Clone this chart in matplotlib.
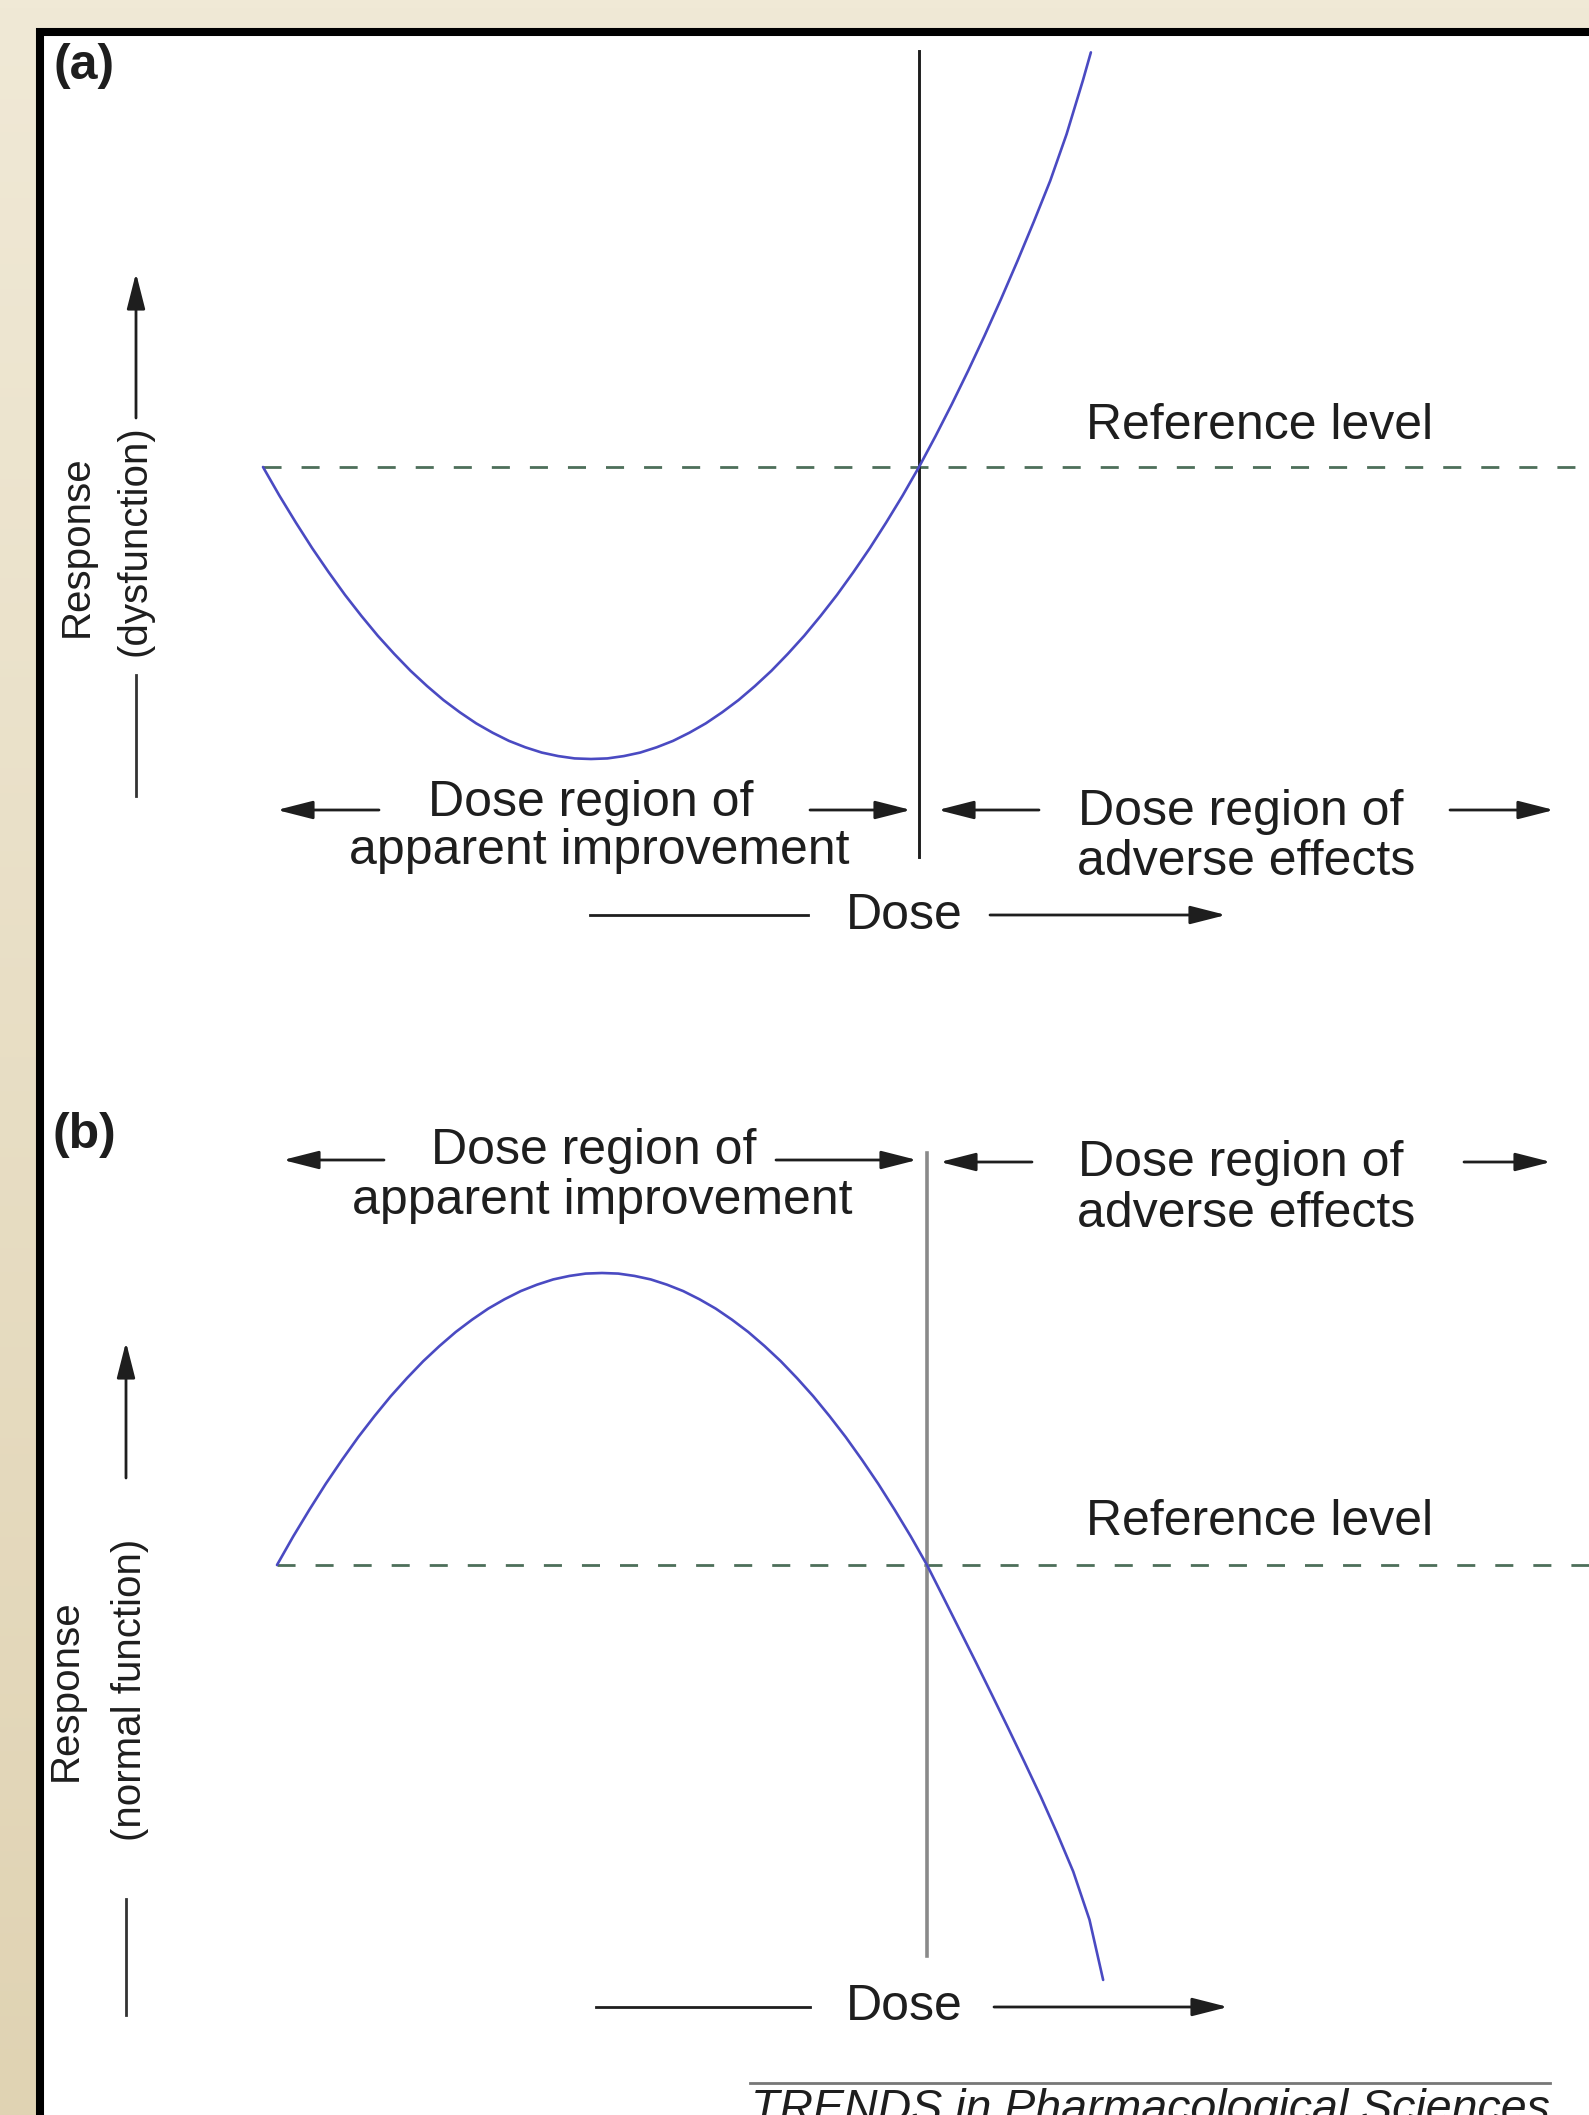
import numpy as np
import matplotlib
matplotlib.use('Agg')
import matplotlib.pyplot as plt
from matplotlib.patches import Rectangle

plt.rcParams['font.family'] = ['Liberation Sans', 'DejaVu Sans']

# (a) response (dysfunction) vs dose, dose normalised so threshold = 1
dose_a = [0.000, 0.025, 0.050, 0.075, 0.100, 0.125, 0.150, 0.175, 0.200, 0.225, 0.250,
          0.275, 0.300, 0.325, 0.350, 0.375, 0.400, 0.425, 0.450, 0.475, 0.500,
          0.525, 0.550, 0.575, 0.600, 0.625, 0.650, 0.675, 0.700, 0.725, 0.750,
          0.775, 0.800, 0.825, 0.850, 0.875, 0.900, 0.925, 0.950, 0.975, 1.000,
          1.025, 1.050, 1.075, 1.100, 1.125, 1.150, 1.175, 1.200, 1.225, 1.250, 1.262]
resp_a = [0.000, -0.098, -0.190, -0.278, -0.360, -0.438, -0.510, -0.578, -0.640, -0.698, -0.750,
          -0.798, -0.840, -0.878, -0.910, -0.938, -0.960, -0.978, -0.990, -0.998, -1.000,
          -0.998, -0.990, -0.978, -0.960, -0.938, -0.910, -0.878, -0.840, -0.798, -0.750,
          -0.698, -0.640, -0.578, -0.510, -0.438, -0.360, -0.278, -0.190, -0.098, 0.000,
          0.105, 0.215, 0.330, 0.450, 0.575, 0.705, 0.840, 0.980, 1.140, 1.325, 1.420]
# (b) response (normal function) vs dose
dose_b = [0.000, 0.025, 0.050, 0.075, 0.100, 0.125, 0.150, 0.175, 0.200, 0.225, 0.250,
          0.275, 0.300, 0.325, 0.350, 0.375, 0.400, 0.425, 0.450, 0.475, 0.500,
          0.525, 0.550, 0.575, 0.600, 0.625, 0.650, 0.675, 0.700, 0.725, 0.750,
          0.775, 0.800, 0.825, 0.850, 0.875, 0.900, 0.925, 0.950, 0.975, 1.000,
          1.025, 1.050, 1.075, 1.100, 1.125, 1.150, 1.175, 1.200, 1.225, 1.250, 1.271]
resp_b = [0.000, 0.098, 0.190, 0.278, 0.360, 0.438, 0.510, 0.578, 0.640, 0.698, 0.750,
          0.798, 0.840, 0.878, 0.910, 0.938, 0.960, 0.978, 0.990, 0.998, 1.000,
          0.998, 0.990, 0.978, 0.960, 0.938, 0.910, 0.878, 0.840, 0.798, 0.750,
          0.698, 0.640, 0.578, 0.510, 0.438, 0.360, 0.278, 0.190, 0.098, 0.000,
          -0.110, -0.221, -0.332, -0.445, -0.559, -0.675, -0.793, -0.918, -1.050, -1.215, -1.421]
ref_level = 0.0
threshold = 1.0

W, H = 1589, 2115
txt = '#1e1e1e'
fig = plt.figure(figsize=(W / 100, H / 100), dpi=100)

# background + framed white panel, pixel coordinates
bg = fig.add_axes([0, 0, 1, 1])
bg.set_xlim(0, W)
bg.set_ylim(H, 0)
bg.axis('off')
grad = np.linspace(0, 1, 256).reshape(-1, 1)
c1 = np.array([0xF0, 0xE9, 0xD6]) / 255
c2 = np.array([0xE0, 0xD3, 0xB3]) / 255
img = c1 + (c2 - c1) * grad[:, :, None]
bg.imshow(img, extent=[0, W, H, 0], aspect='auto', zorder=0)
bg.add_patch(Rectangle((40, 32), 1700, 2200, facecolor='white', edgecolor='black', lw=5.8, zorder=1))


def panel(rect, x0, xs, y0, ys):
    ax = fig.add_axes(rect)
    top = (1 - rect[1] - rect[3]) * H
    bot = (1 - rect[1]) * H
    ax.set_xlim(-x0 / xs, (W - x0) / xs)
    ax.set_ylim((y0 - bot) / ys, (y0 - top) / ys)
    ax.axis('off')
    ax.patch.set_visible(False)
    return ax


ax_a = panel([0, 0.5, 1, 0.5], 263, 656, 467, 292)
ax_b = panel([0, 0.0, 1, 0.5], 277, 650, 1565, 292)

curve_col = '#4a4ac2'
dash_col = '#4d6f5a'
for ax, d, r in [(ax_a, dose_a, resp_a), (ax_b, dose_b, resp_b)]:
    ax.plot([d[0], 3], [ref_level, ref_level], color=dash_col, lw=2, ls=(0, (6.5, 7.2)), zorder=2)
    ax.plot(d, r, color=curve_col, lw=1.9, zorder=4, solid_capstyle='round', solid_joinstyle='round')
ax_a.plot([threshold, threshold], [1.425, -1.336], color='#1e1e1e', lw=2.1, zorder=3)
ax_b.plot([threshold, threshold], [1.411, -1.339], color='#8a8a8a', lw=2.6, zorder=3)

fs = 36
ap = dict(arrowstyle='-|>,head_length=1.1,head_width=0.28', lw=2.0, color=txt,
          shrinkA=0, shrinkB=0, mutation_scale=20)


def arrow(x1, y1, x2, y2):
    bg.annotate('', xy=(x2, y2), xytext=(x1, y1), arrowprops=ap, zorder=5)


def seg(x1, y1, x2, y2, col=txt):
    bg.plot([x1, x2], [y1, y2], color=col, lw=2.0, zorder=5)


def label(x, y, s, **kw):
    kw.setdefault('fontsize', fs)
    bg.text(x, y, s, ha='center', va='center', color=txt, zorder=6, **kw)


# panel letters
label(84, 66, '(a)', fontweight='bold')
label(84, 1135, '(b)', fontweight='bold')

# y-axis labels
label(77, 546, 'Response', rotation=90, fontsize=29)
label(135, 541, '(dysfunction)', rotation=90, fontsize=29)
arrow(136, 418, 136, 273)
seg(136, 675, 136, 796, '#333333')

label(66, 1690, 'Response', rotation=90, fontsize=29)
label(130, 1690, '(normal function)', rotation=90, fontsize=29)
arrow(126, 1478, 126, 1342)
seg(126, 1899, 126, 2015, '#333333')

# reference level
label(1260, 426, 'Reference level')
label(1260, 1522, 'Reference level')

# dose regions (a)
label(591, 803, 'Dose region of')
label(599, 851, 'apparent improvement')
arrow(379, 810, 277, 810)
arrow(810, 810, 911, 810)
label(1241, 812, 'Dose region of')
label(1246, 862, 'adverse effects')
arrow(1039, 810, 938, 810)
arrow(1450, 810, 1554, 810)

# dose regions (b)
label(594, 1151, 'Dose region of')
label(602, 1201, 'apparent improvement')
arrow(384, 1160, 283, 1160)
arrow(776, 1160, 917, 1160)
label(1241, 1163, 'Dose region of')
label(1246, 1214, 'adverse effects')
arrow(1032, 1162, 940, 1162)
arrow(1464, 1162, 1551, 1162)

# dose axes
label(904, 916, 'Dose')
seg(590, 915, 808, 915)
arrow(990, 915, 1226, 915)
label(904, 2007, 'Dose')
seg(596, 2007, 810, 2007)
arrow(994, 2007, 1228, 2007)

# footer (cut by the bottom edge, as in the source)
seg(750, 2083, 1550, 2083, '#777777')
bg.text(1150, 2088, 'TRENDS in Pharmacological Sciences', ha='center', va='top',
        fontsize=33.5, style='italic', color=txt, zorder=6)

fig.savefig('out.png', dpi=100)
